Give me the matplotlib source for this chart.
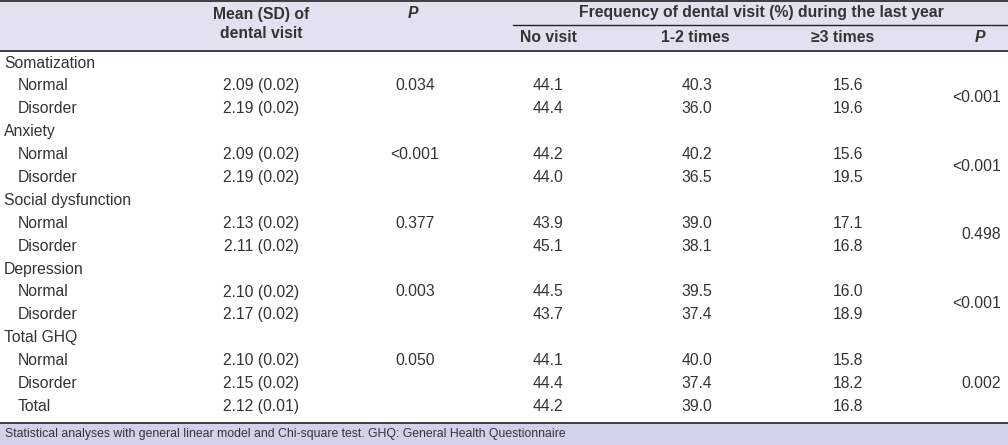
import matplotlib.pyplot as plt

# Table content
groups = ['Somatization', 'Anxiety', 'Social dysfunction', 'Depression', 'Total GHQ']
subrows = [['Normal', 'Disorder'], ['Normal', 'Disorder'], ['Normal', 'Disorder'],
           ['Normal', 'Disorder'], ['Normal', 'Disorder', 'Total']]
mean_sd = [['2.09 (0.02)', '2.19 (0.02)'], ['2.09 (0.02)', '2.19 (0.02)'],
           ['2.13 (0.02)', '2.11 (0.02)'], ['2.10 (0.02)', '2.17 (0.02)'],
           ['2.10 (0.02)', '2.15 (0.02)', '2.12 (0.01)']]
p_mean = ['0.034', '<0.001', '0.377', '0.003', '0.050']
no_visit = [['44.1', '44.4'], ['44.2', '44.0'], ['43.9', '45.1'], ['44.5', '43.7'],
            ['44.1', '44.4', '44.2']]
one_two = [['40.3', '36.0'], ['40.2', '36.5'], ['39.0', '38.1'], ['39.5', '37.4'],
           ['40.0', '37.4', '39.0']]
three_plus = [['15.6', '19.6'], ['15.6', '19.5'], ['17.1', '16.8'], ['16.0', '18.9'],
              ['15.8', '18.2', '16.8']]
p_freq = ['<0.001', '<0.001', '0.498', '<0.001', '0.002']
footnote = ('Statistical analyses with general linear model and Chi-square test. '
            'GHQ: General Health Questionnaire')

W, H = 1008, 445
TXT = '#333333'
FS = 11.3
plt.rcParams['font.family'] = ['Liberation Sans', 'DejaVu Sans']

fig = plt.figure(figsize=(W / 100, H / 100), dpi=100)
ax = fig.add_axes([0, 0, 1, 1])
ax.set_xlim(0, W)
ax.set_ylim(H, 0)
ax.axis('off')

# header / footer backgrounds and rules
ax.axhspan(0, 51, color='#e1e1ef', zorder=0)
ax.axhspan(423, H, color='#d2d2ea', zorder=0)
ax.plot([0, W], [0.8, 0.8], color='#222222', lw=1.2)
ax.plot([0, W], [51, 51], color='#222222', lw=1.2)
ax.plot([513, W], [25, 25], color='#222222', lw=1.0)
ax.plot([0, W], [423, 423], color='#222222', lw=1.2)

hd = dict(fontsize=FS, fontweight='bold', color=TXT, ha='center', va='center')
ax.text(261, 14, 'Mean (SD) of', **hd)
ax.text(261, 34, 'dental visit', **hd)
ax.text(413, 14, 'P', style='italic', **hd)
ax.text(761, 13, 'Frequency of dental visit (%) during the last year', **hd)
ax.text(548, 38, 'No visit', **hd)
ax.text(695, 38, '1-2 times', **hd)
ax.text(843, 38, '≥3 times', **hd)
ax.text(980, 38, 'P', style='italic', **hd)

cell = dict(fontsize=FS, color=TXT, va='center')
y = 63
step = 22.9
for g in range(len(groups)):
    ax.text(4, y, groups[g], ha='left', **cell)
    y += step
    ys = []
    for k in range(len(subrows[g])):
        ax.text(18, y, subrows[g][k], ha='left', **cell)
        ax.text(261, y, mean_sd[g][k], ha='center', **cell)
        ax.text(548, y, no_visit[g][k], ha='center', **cell)
        ax.text(697, y, one_two[g][k], ha='center', **cell)
        ax.text(848, y, three_plus[g][k], ha='center', **cell)
        ys.append(y)
        y += step
    ax.text(415, ys[0], p_mean[g], ha='center', **cell)
    ax.text(1001, sum(ys) / len(ys), p_freq[g], ha='right', **cell)

ax.text(5, 434, footnote, ha='left', fontsize=8.8, color=TXT, va='center')

fig.savefig('out.png', dpi=100)
